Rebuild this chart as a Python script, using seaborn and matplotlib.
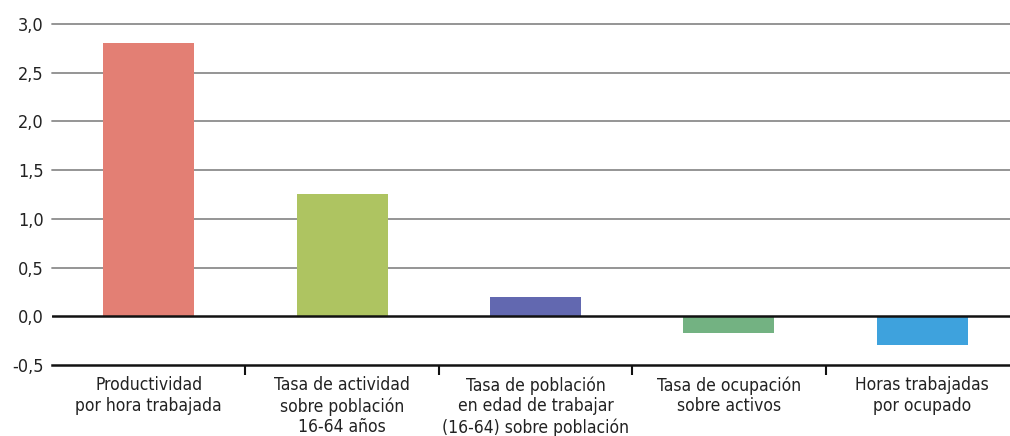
import matplotlib
matplotlib.use("Agg")
import matplotlib.pyplot as plt
import seaborn as sns
import pandas as pd
from matplotlib.ticker import FixedLocator, FuncFormatter
from matplotlib import font_manager

categories = [
    "Productividad\npor hora trabajada",
    "Tasa de actividad\nsobre población\n16-64 años",
    "Tasa de población\nen edad de trabajar\n(16-64) sobre población",
    "Tasa de ocupación\nsobre activos",
    "Horas trabajadas\npor ocupado",
]
values = [2.80, 1.25, 0.20, -0.17, -0.29]
colors = ["#E37F74", "#AEC461", "#6268B0", "#73B282", "#3EA2DD"]
yticks = [-0.5, 0.0, 0.5, 1.0, 1.5, 2.0, 2.5, 3.0]

sns.set_theme(style="white")
names = {f.name for f in font_manager.fontManager.ttflist}
if "Liberation Sans Narrow" in names:
    plt.rcParams["font.family"] = ["Liberation Sans Narrow", "DejaVu Sans"]
else:
    plt.rcParams["font.family"] = ["DejaVu Sans"]
    plt.rcParams["font.stretch"] = "condensed"

df = pd.DataFrame({"cat": categories, "val": values})

fig = plt.figure(figsize=(10.10, 4.36), dpi=100)
ax = fig.add_axes([52 / 1010, 71 / 436, 967 / 1010, 341 / 436])

sns.barplot(data=df, x="cat", y="val", hue="cat", palette=colors,
            width=0.47, legend=False, ax=ax, saturation=1, linewidth=0)

ax.set_ylim(-0.5, 3.0)
ax.set_xlim(-0.5, len(categories) - 0.5)
ax.set_yticks(yticks)
ax.yaxis.set_major_formatter(FuncFormatter(lambda v, p: f"{v:.1f}".replace(".", ",")))
for y in yticks:
    if y in (0.0, -0.5):
        continue
    ax.axhline(y, color="#8c8c8c", lw=1.3, zorder=0, clip_on=False)
ax.axhline(0, color="#111111", lw=1.8, zorder=3)

for s in ["left", "right", "top"]:
    ax.spines[s].set_visible(False)
ax.spines["bottom"].set_color("#111111")
ax.spines["bottom"].set_linewidth(1.8)

ax.set_xlabel("")
ax.set_ylabel("")
ax.tick_params(axis="y", length=0, labelsize=13, colors="#222222", pad=6)
ax.tick_params(axis="x", which="major", length=0, labelsize=12.5, colors="#222222", pad=8)
ax.xaxis.set_minor_locator(FixedLocator([0.5, 1.5, 2.5, 3.5]))
ax.tick_params(axis="x", which="minor", bottom=True, length=7, width=1.5, color="#111111", direction="out")
for lbl in ax.get_xticklabels():
    lbl.set_linespacing(1.2)

fig.savefig("out.png", dpi=100)
